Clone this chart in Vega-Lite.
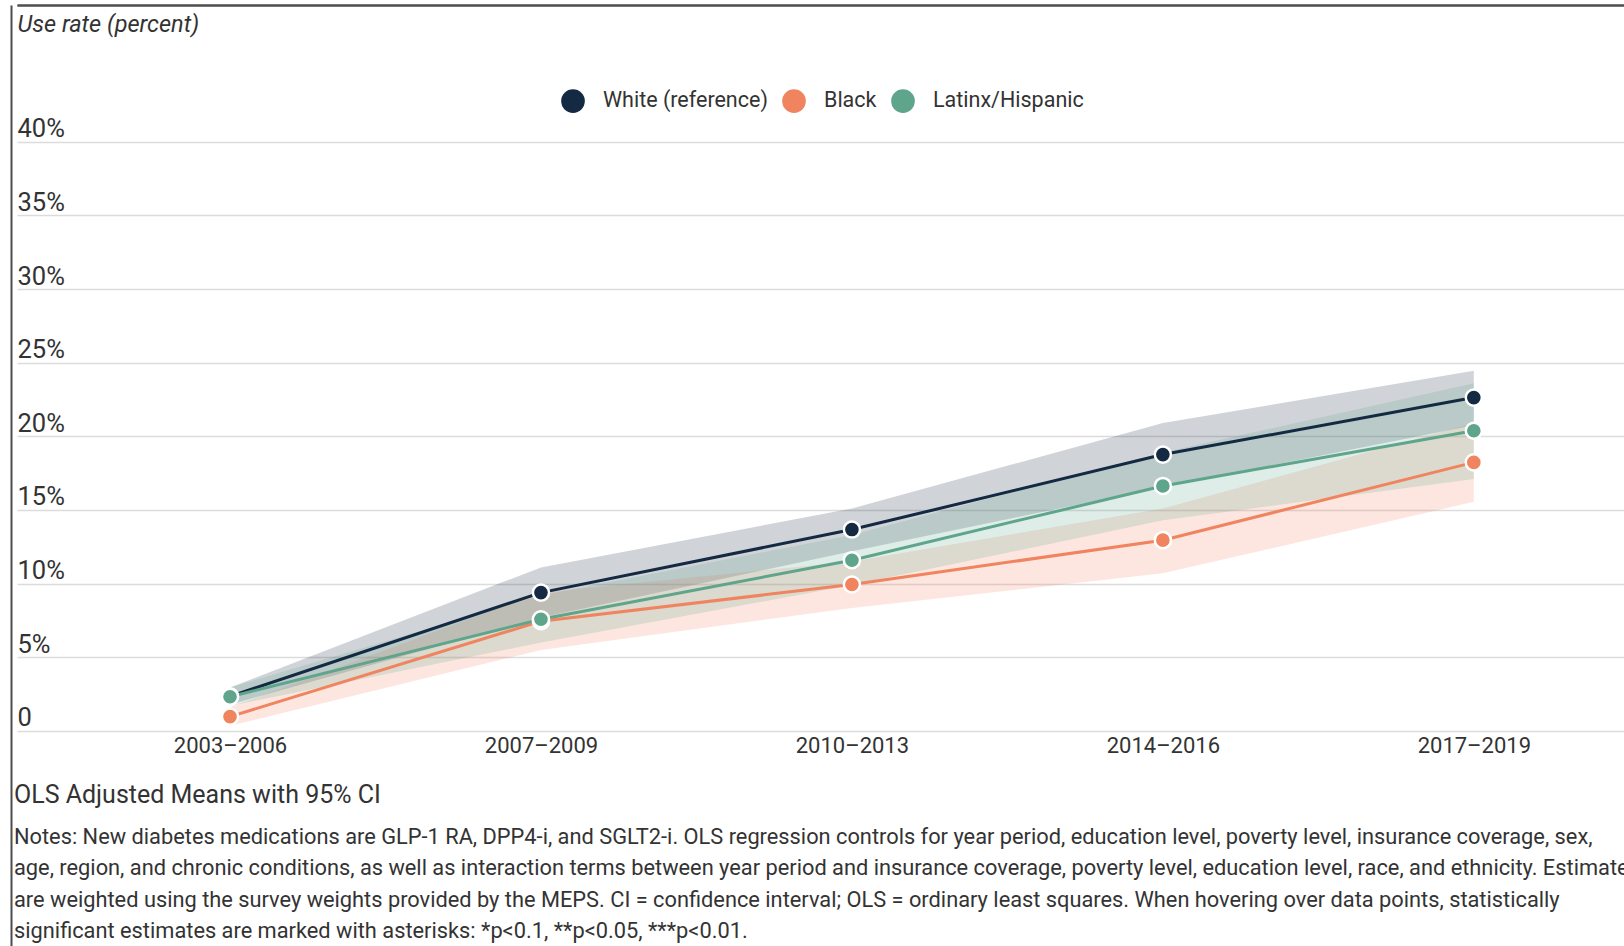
{
  "$schema": "https://vega.github.io/schema/vega-lite/v6.json",
  "autosize": {"type": "none"},
  "padding": {"left": 17, "top": 5, "right": 0, "bottom": 0},
  "width": 1607,
  "height": 941,
  "background": "white",
  "config": {"font": "Roboto", "view": {"stroke": null}},
  "title": {
    "text": "OLS Adjusted Means with 95% CI",
    "subtitle": [
      "Notes: New diabetes medications are GLP-1 RA, DPP4-i, and SGLT2-i. OLS regression controls for year period, education level, poverty level, insurance coverage, sex,",
      "age, region, and chronic conditions, as well as interaction terms between year period and insurance coverage, poverty level, education level, race, and ethnicity. Estimates",
      "are weighted using the survey weights provided by the MEPS. CI = confidence interval; OLS = ordinary least squares. When hovering over data points, statistically",
      "significant estimates are marked with asterisks: *p<0.1, **p<0.05, ***p<0.01."
    ],
    "orient": "bottom",
    "anchor": "start",
    "frame": "group",
    "offset": -163,
    "dx": -3,
    "font": "Roboto",
    "fontSize": 25,
    "fontWeight": "normal",
    "color": "#333333",
    "subtitleFont": "Roboto",
    "subtitleFontSize": 21.8,
    "subtitleColor": "#333333",
    "subtitleLineHeight": 31.5,
    "subtitlePadding": 18.5
  },
  "data": {
    "values": [
      {"period": "2003–2006", "group": "White (reference)", "value": 2.35, "lo": 1.8, "hi": 2.95},
      {"period": "2007–2009", "group": "White (reference)", "value": 9.39, "lo": 7.7, "hi": 11.1},
      {"period": "2010–2013", "group": "White (reference)", "value": 13.67, "lo": 12.2, "hi": 15.1},
      {"period": "2014–2016", "group": "White (reference)", "value": 18.76, "lo": 16.55, "hi": 20.9},
      {"period": "2017–2019", "group": "White (reference)", "value": 22.63, "lo": 20.75, "hi": 24.45},
      {"period": "2003–2006", "group": "Black", "value": 0.97, "lo": 0.35, "hi": 1.6},
      {"period": "2007–2009", "group": "Black", "value": 7.45, "lo": 5.5, "hi": 9.4},
      {"period": "2010–2013", "group": "Black", "value": 9.94, "lo": 8.35, "hi": 11.5},
      {"period": "2014–2016", "group": "Black", "value": 12.95, "lo": 10.7, "hi": 15.1},
      {"period": "2017–2019", "group": "Black", "value": 18.23, "lo": 15.55, "hi": 20.9},
      {"period": "2003–2006", "group": "Latinx/Hispanic", "value": 2.32, "lo": 1.7, "hi": 2.95},
      {"period": "2007–2009", "group": "Latinx/Hispanic", "value": 7.58, "lo": 6.0, "hi": 9.2},
      {"period": "2010–2013", "group": "Latinx/Hispanic", "value": 11.59, "lo": 9.9, "hi": 13.3},
      {"period": "2014–2016", "group": "Latinx/Hispanic", "value": 16.63, "lo": 14.3, "hi": 18.9},
      {"period": "2017–2019", "group": "Latinx/Hispanic", "value": 20.38, "lo": 17.1, "hi": 23.6}
    ]
  },
  "resolve": {"axis": {"x": "independent"}},
  "layer": [
    {
      "mark": {"type": "area", "fillOpacity": 0.2, "interpolate": "linear"},
      "encoding": {
        "x": {
          "field": "period", "type": "ordinal",
          "sort": ["2003–2006", "2007–2009", "2010–2013", "2014–2016", "2017–2019"],
          "scale": {"type": "point", "padding": 0.584, "align": 0.5865},
          "axis": {
            "orient": "bottom", "offset": -215, "domain": false, "ticks": false, "grid": false,
            "labelAngle": 0, "labelFont": "Roboto", "labelFontSize": 22, "labelColor": "#333333",
            "labelPadding": 4.5, "labelBaseline": "top", "title": null
          }
        },
        "y": {
          "field": "lo", "type": "quantitative",
          "title": "Use rate (percent)",
          "scale": {"domain": [-14.6, 49.28], "nice": false, "zero": false},
          "axis": {
            "orient": "left", "offset": 6, "values": [0, 5, 10, 15, 20, 25, 30, 35, 40],
            "grid": true, "gridColor": "#dcdcdc", "gridWidth": 1.5,
            "domain": true, "domainColor": "#4d4d4d", "domainWidth": 2,
            "ticks": false, "tickSize": 0,
            "labelAlign": "left", "labelBaseline": "alphabetic", "labelPadding": -6, "labelOffset": -5,
            "labelExpr": "datum.value == 0 ? '0' : datum.value + '%'",
            "labelFont": "Roboto", "labelFontSize": 25.5, "labelColor": "#333333",
            "labelFlush": false, "labelOverlap": false,
            "title": "Use rate (percent)", "titleFont": "Roboto", "titleFontSize": 23.5,
            "titleFontStyle": "italic", "titleFontWeight": "normal", "titleColor": "#333333",
            "titleAngle": 0, "titleAlign": "left", "titleBaseline": "alphabetic",
            "titleX": 6, "titleY": 26
          }
        },
        "y2": {"field": "hi"},
        "fill": {
          "field": "group", "type": "nominal",
          "scale": {"domain": ["Latinx/Hispanic", "Black", "White (reference)"], "range": ["#5ea58c", "#f0845f", "#142a42"]},
          "legend": null
        }
      }
    },
    {
      "mark": {"type": "line", "strokeWidth": 3},
      "encoding": {
        "x": {
          "field": "period", "type": "ordinal",
          "sort": ["2003–2006", "2007–2009", "2010–2013", "2014–2016", "2017–2019"],
          "scale": {"type": "point", "padding": 0.584, "align": 0.5865},
          "axis": {
            "orient": "top", "domain": true, "domainColor": "#4d4d4d", "domainWidth": 2,
            "ticks": false, "labels": false, "grid": false, "title": null
          }
        },
        "y": {
          "field": "value", "type": "quantitative",
          "title": "Use rate (percent)",
          "scale": {"domain": [-14.6, 49.28], "nice": false, "zero": false},
          "axis": {
            "orient": "left", "offset": 6, "values": [0, 5, 10, 15, 20, 25, 30, 35, 40],
            "grid": true, "gridColor": "#dcdcdc", "gridWidth": 1.5,
            "domain": true, "domainColor": "#4d4d4d", "domainWidth": 2,
            "ticks": false, "tickSize": 0,
            "labelAlign": "left", "labelBaseline": "alphabetic", "labelPadding": -6, "labelOffset": -5,
            "labelExpr": "datum.value == 0 ? '0' : datum.value + '%'",
            "labelFont": "Roboto", "labelFontSize": 25.5, "labelColor": "#333333",
            "labelFlush": false, "labelOverlap": false,
            "title": "Use rate (percent)", "titleFont": "Roboto", "titleFontSize": 23.5,
            "titleFontStyle": "italic", "titleFontWeight": "normal", "titleColor": "#333333",
            "titleAngle": 0, "titleAlign": "left", "titleBaseline": "alphabetic",
            "titleX": 6, "titleY": 26
          }
        },
        "stroke": {
          "field": "group", "type": "nominal",
          "scale": {"domain": ["Black", "White (reference)", "Latinx/Hispanic"], "range": ["#f0845f", "#142a42", "#5ea58c"]},
          "legend": null
        }
      }
    },
    {
      "mark": {"type": "point", "filled": true, "size": 260, "stroke": "white", "strokeWidth": 2.5, "opacity": 1},
      "encoding": {
        "x": {
          "field": "period", "type": "ordinal",
          "sort": ["2003–2006", "2007–2009", "2010–2013", "2014–2016", "2017–2019"],
          "scale": {"type": "point", "padding": 0.584, "align": 0.5865},
          "axis": {
            "orient": "top", "domain": true, "domainColor": "#4d4d4d", "domainWidth": 2,
            "ticks": false, "labels": false, "grid": false, "title": null
          }
        },
        "y": {
          "field": "value", "type": "quantitative",
          "title": "Use rate (percent)",
          "scale": {"domain": [-14.6, 49.28], "nice": false, "zero": false},
          "axis": {
            "orient": "left", "offset": 6, "values": [0, 5, 10, 15, 20, 25, 30, 35, 40],
            "grid": true, "gridColor": "#dcdcdc", "gridWidth": 1.5,
            "domain": true, "domainColor": "#4d4d4d", "domainWidth": 2,
            "ticks": false, "tickSize": 0,
            "labelAlign": "left", "labelBaseline": "alphabetic", "labelPadding": -6, "labelOffset": -5,
            "labelExpr": "datum.value == 0 ? '0' : datum.value + '%'",
            "labelFont": "Roboto", "labelFontSize": 25.5, "labelColor": "#333333",
            "labelFlush": false, "labelOverlap": false,
            "title": "Use rate (percent)", "titleFont": "Roboto", "titleFontSize": 23.5,
            "titleFontStyle": "italic", "titleFontWeight": "normal", "titleColor": "#333333",
            "titleAngle": 0, "titleAlign": "left", "titleBaseline": "alphabetic",
            "titleX": 6, "titleY": 26
          }
        },
        "color": {
          "field": "group", "type": "nominal",
          "scale": {"domain": ["White (reference)", "Black", "Latinx/Hispanic"], "range": ["#142a42", "#f0845f", "#5ea58c"]},
          "legend": {
            "orient": "none", "legendX": 544, "legendY": 84, "direction": "horizontal",
            "title": null, "symbolType": "circle", "symbolSize": 560, "symbolStrokeWidth": 0,
            "symbolOpacity": 1, "labelLimit": 0,
            "labelFont": "Roboto", "labelFontSize": 21.5, "labelColor": "#333333",
            "labelOffset": 18, "columnPadding": 14, "padding": 0
          }
        }
      }
    }
  ]
}
